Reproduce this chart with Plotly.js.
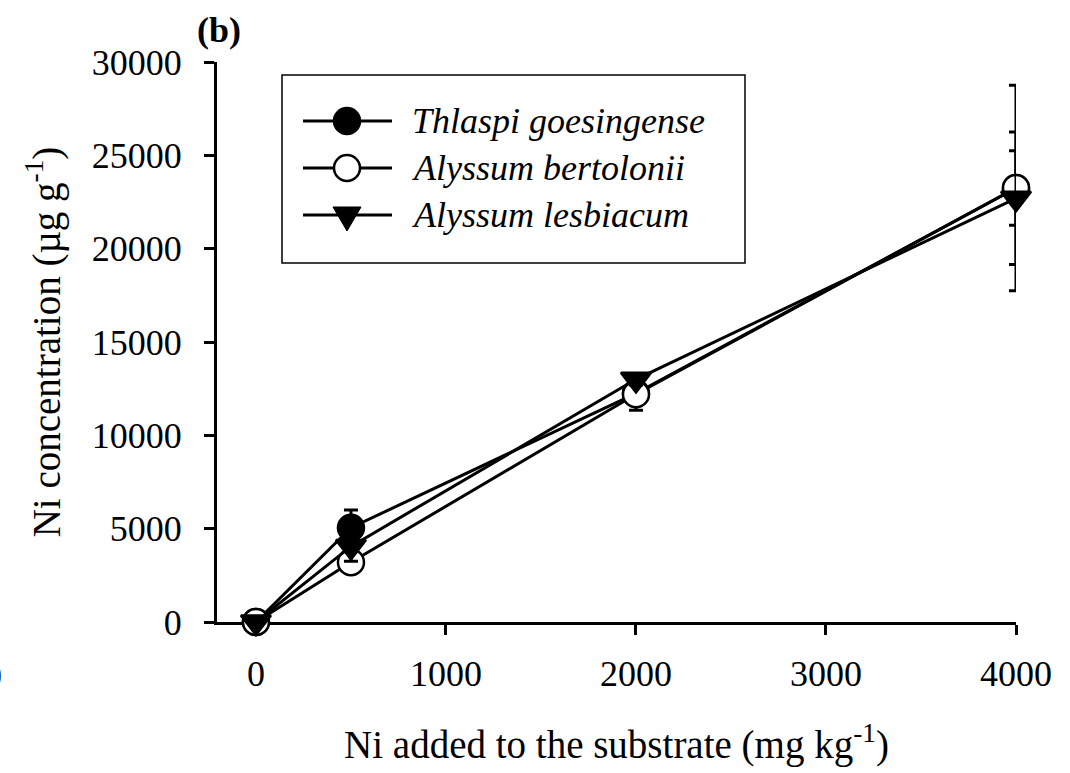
<!DOCTYPE html>
<html>
<head>
<meta charset="utf-8">
<script src="https://cdn.plot.ly/plotly-3.0.1.min.js"></script>
<style>html,body{margin:0;padding:0;background:#fff;}#chart{width:1070px;height:773px;}</style>
</head>
<body>
<div id="chart"></div>
<script>
// Ni added to the substrate (mg kg-1)
const niAdded = [0, 500, 2000, 4000];

const seriesNames = ["Thlaspi goesingense", "Alyssum bertolonii", "Alyssum lesbiacum"];

// Ni concentration (µg g-1)
const thlaspiGoesingense = [0, 5050, 12250, 23250];
const thlaspiGoesingenseErr = [0, 950, 400, 2000];

const alyssumBertolonii = [0, 3200, 12200, 23250];
const alyssumBertoloniiErr = [0, 300, 850, 5500];

const alyssumLesbiacum = [0, 4050, 13000, 22700];
const alyssumLesbiacumErr = [0, 800, 300, 3550];

const xTicks = [0, 1000, 2000, 3000, 4000];
const yTicks = [0, 5000, 10000, 15000, 20000, 25000, 30000];

const FONT = "'Liberation Serif', 'Times New Roman', serif";

// plot-area geometry in pixels (used to place the hand-drawn legend)
const W = 1070, H = 773;
const M = {l: 217, r: 54, t: 62, b: 151};
const PW = W - M.l - M.r, PH = H - M.t - M.b;
const px = v => (v - M.l) / PW;          // pixel x -> paper x
const py = v => (H - M.b - v) / PH;      // pixel y -> paper y

const symbols = ["circle", "circle", "triangle-down"];
const fills = ["#000", "#fff", "#000"];
const MSIZE = 26;

function mkTrace(i, y, err) {
  return {
    type: "scatter",
    mode: "lines+markers",
    name: seriesNames[i],
    x: niAdded,
    y: y,
    cliponaxis: false,
    showlegend: false,
    line: {color: "#000", width: 3},
    marker: {symbol: symbols[i], size: MSIZE, color: fills[i],
             line: {color: "#000", width: 2.5}},
    error_y: {type: "data", array: err, visible: true, color: "#000", thickness: 3, width: 7}
  };
}

const data = [
  mkTrace(0, thlaspiGoesingense, thlaspiGoesingenseErr),
  mkTrace(1, alyssumBertolonii, alyssumBertoloniiErr),
  mkTrace(2, alyssumLesbiacum, alyssumLesbiacumErr)
];

// legend (box, sample lines, symbols, labels)
const legBox = {x0: 282, x1: 745, y0: 75, y1: 263};
const rowY = [121, 168, 215];
const sampleX = [303, 392], symX = 347, textX = 410;

const shapes = [
  {type: "rect", xref: "paper", yref: "paper", x0: px(legBox.x0), x1: px(legBox.x1),
   y0: py(legBox.y1), y1: py(legBox.y0), line: {color: "#000", width: 1.5}, fillcolor: "#fff"}
];
const annotations = [];
rowY.forEach((ry, i) => {
  shapes.push({type: "line", xref: "paper", yref: "paper", x0: px(sampleX[0]), x1: px(sampleX[1]),
               y0: py(ry), y1: py(ry), line: {color: "#000", width: 3}});
  if (symbols[i] === "circle") {
    shapes.push({type: "circle", xref: "paper", yref: "paper", xsizemode: "pixel", ysizemode: "pixel",
                 xanchor: px(symX), yanchor: py(ry), x0: -13, x1: 13, y0: -13, y1: 13,
                 fillcolor: fills[i], line: {color: "#000", width: 2.5}});
  } else {
    shapes.push({type: "path", xref: "paper", yref: "paper", xsizemode: "pixel", ysizemode: "pixel",
                 xanchor: px(symX), yanchor: py(ry), path: "M-14,8 L14,8 L0,-16 Z",
                 fillcolor: fills[i], line: {color: "#000", width: 1}});
  }
  annotations.push({text: seriesNames[i], xref: "paper", yref: "paper", x: px(textX), y: py(ry),
                    xanchor: "left", yanchor: "middle", showarrow: false,
                    font: {family: FONT, size: 36, style: "italic", color: "#000"}});
});

annotations.push(
  {text: "<b>(b)</b>", xref: "paper", yref: "paper", x: px(219), y: py(30),
   xanchor: "center", yanchor: "middle", showarrow: false, font: {family: FONT, size: 36}},
  {text: "0", xref: "paper", yref: "paper", x: px(4), y: py(676),
   xanchor: "right", yanchor: "middle", showarrow: false, font: {family: FONT, size: 36}}
);

const layout = {
  width: W, height: H,
  margin: {l: M.l, r: M.r, t: M.t, b: M.b, pad: 0},
  paper_bgcolor: "#fff", plot_bgcolor: "#fff",
  font: {family: FONT, size: 36, color: "#000"},
  showlegend: false,
  xaxis: {
    range: [-205, 4000], tickmode: "array", tickvals: xTicks, ticktext: xTicks.map(String),
    showgrid: false, zeroline: false, showline: true, linecolor: "#000", linewidth: 3,
    ticks: "outside", ticklen: 10, tickwidth: 3, tickcolor: "#000",
    ticklabelstandoff: 8, layer: "below traces",
    title: {text: "Ni added to the substrate (mg kg<sup>-1</sup>)", font: {family: FONT, size: 39}, standoff: 38}
  },
  yaxis: {
    range: [0, 30000], tickmode: "array", tickvals: yTicks, ticktext: yTicks.map(String),
    showgrid: false, zeroline: false, showline: true, linecolor: "#000", linewidth: 3,
    ticks: "outside", ticklen: 10, tickwidth: 3, tickcolor: "#000",
    ticklabelstandoff: 15, layer: "below traces",
    title: {text: "Ni concentration (µg g<sup>-1</sup>)", font: {family: FONT, size: 39}, standoff: 20}
  },
  shapes: shapes,
  annotations: annotations
};

Plotly.newPlot("chart", data, layout, {displayModeBar: false, staticPlot: true});
</script>
</body>
</html>
